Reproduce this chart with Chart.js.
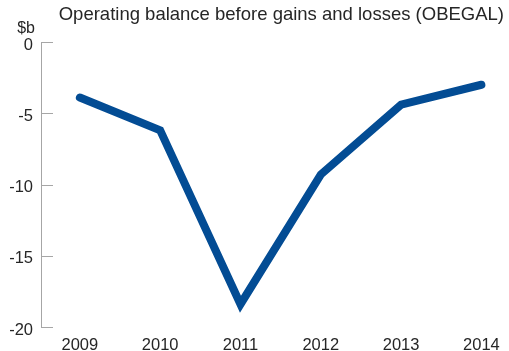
<!DOCTYPE html>
<html>
<head>
<meta charset="utf-8">
<script src="https://cdn.jsdelivr.net/npm/chart.js@4/dist/chart.umd.min.js"></script>
<style>
  html, body { margin: 0; padding: 0; background: #fff; }
  #wrap { width: 509px; height: 351px; }
</style>
</head>
<body>
<div id="wrap"><canvas id="obegalChart"></canvas></div>
<script>
// Operating balance before gains and losses, $b
const years = [2009, 2010, 2011, 2012, 2013, 2014];
const obegal = [-3.9, -6.2, -18.4, -9.3, -4.4, -3.0];
const yTicks = [-20, -15, -10, -5, 0];

const titleText = 'Operating balance before gains and losses (OBEGAL)';
const unitText = '$b';
const fontFamily = '"Liberation Sans", Arial, sans-serif';
const textColor = '#262626';
const axisColor = '#a6a6a6';

// Title, unit label and the short inward tick marks on the value axis
const decorations = {
    id: 'decorations',
    afterDraw(chart) {
        const { ctx, chartArea, scales } = chart;
        ctx.save();
        ctx.fillStyle = textColor;
        ctx.textBaseline = 'alphabetic';

        ctx.font = '18.5px ' + fontFamily;
        ctx.textAlign = 'right';
        ctx.fillText(titleText, chart.width - 5, 20);

        ctx.font = '16px ' + fontFamily;
        ctx.fillText(unitText, chartArea.left - 6, 33);

        ctx.strokeStyle = axisColor;
        ctx.lineWidth = 1;
        yTicks.forEach(v => {
            const y = Math.round(scales.y.getPixelForValue(v)) + 0.5;
            ctx.beginPath();
            ctx.moveTo(chartArea.left, y);
            ctx.lineTo(chartArea.left + 12, y);
            ctx.stroke();
        });
        ctx.restore();
    }
};

const ctx = document.getElementById('obegalChart').getContext('2d');
new Chart(ctx, {
    type: 'line',
    data: {
        datasets: [{
            label: 'OBEGAL',
            data: years.map((yr, i) => ({ x: yr, y: obegal[i] })),
            borderColor: '#034c94',
            borderWidth: 8,
            borderCapStyle: 'round',
            borderJoinStyle: 'miter',
            tension: 0,
            pointRadius: 0,
            fill: false
        }]
    },
    options: {
        responsive: true,
        maintainAspectRatio: false,
        animation: false,
        layout: {
            padding: { top: 42, right: 6, left: 0, bottom: 0 }
        },
        plugins: {
            legend: { display: false },
            tooltip: { enabled: false },
            title: { display: false }
        },
        scales: {
            x: {
                type: 'linear',
                min: 2008.516,
                max: 2014.248,
                afterBuildTicks: scale => { scale.ticks = years.map(v => ({ value: v })); },
                afterFit: scale => { scale.height = 24; },
                grid: { display: false, drawTicks: false },
                border: { display: false },
                ticks: {
                    padding: 9,
                    color: textColor,
                    font: { family: fontFamily, size: 16.5 },
                    callback: v => String(v)
                }
            },
            y: {
                min: -20,
                max: 0,
                afterBuildTicks: scale => { scale.ticks = yTicks.map(v => ({ value: v })); },
                afterFit: scale => { scale.width = 41; },
                grid: { display: false, drawTicks: false },
                border: { display: true, color: axisColor, width: 1 },
                ticks: {
                    padding: 8,
                    labelOffset: 3,
                    color: textColor,
                    font: { family: fontFamily, size: 16.5 }
                }
            }
        }
    },
    plugins: [decorations]
});
</script>
</body>
</html>
